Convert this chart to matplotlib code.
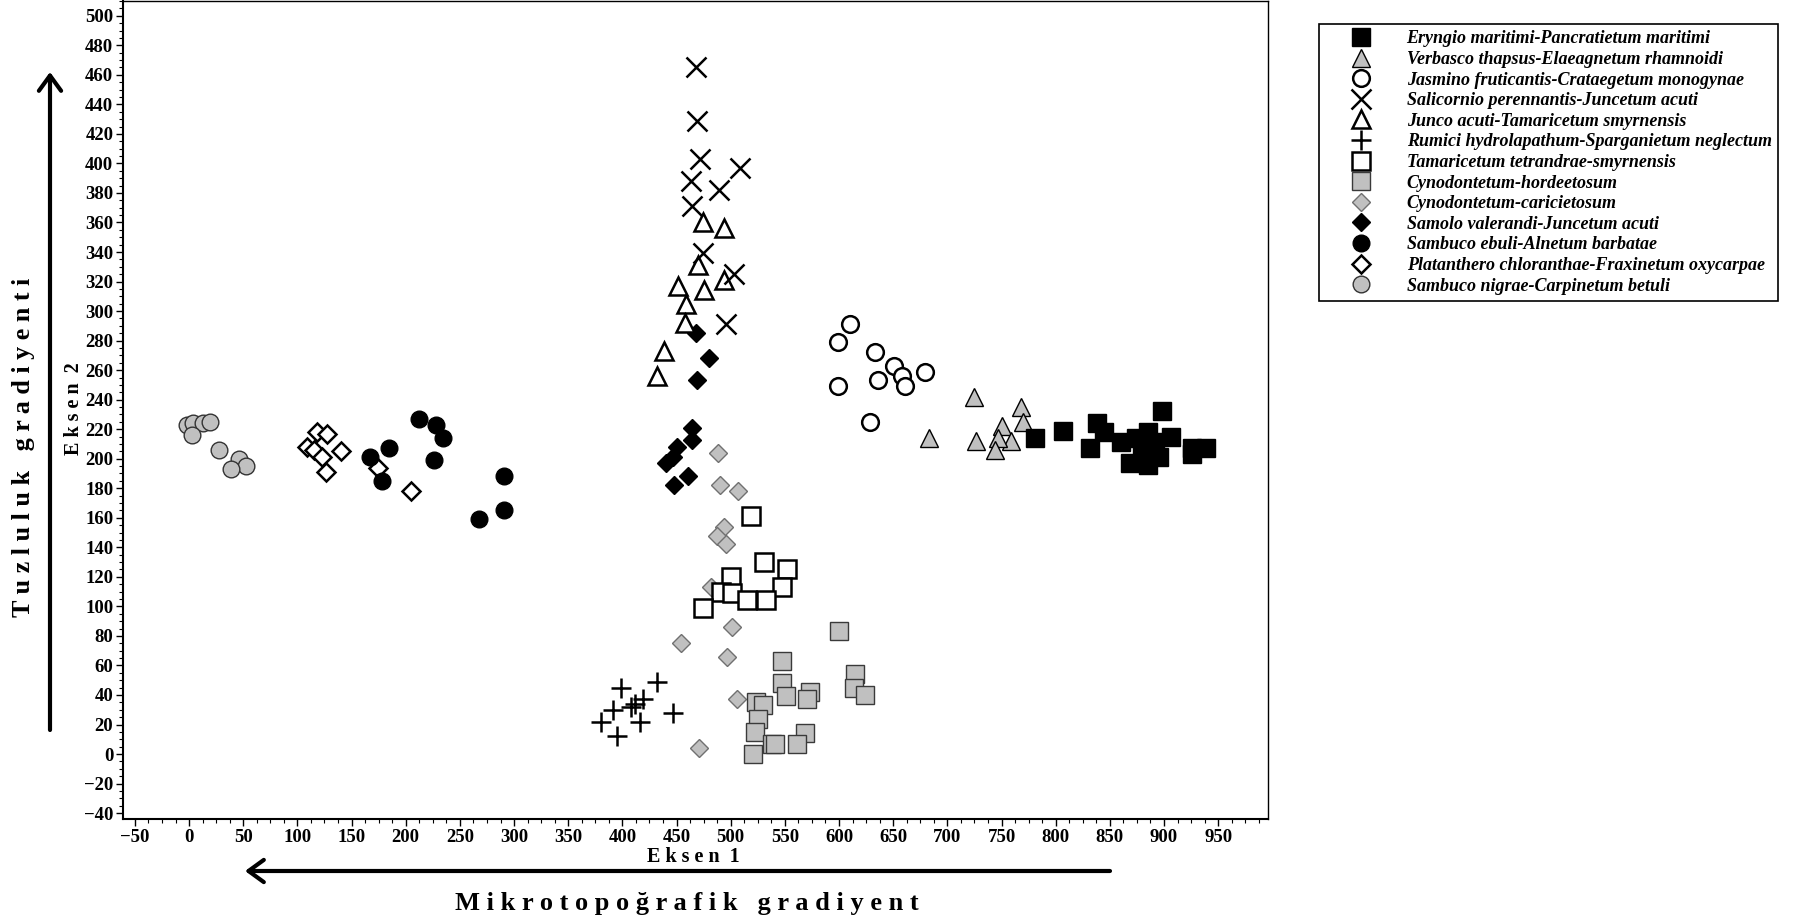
import matplotlib
matplotlib.use("Agg")
import matplotlib.pyplot as plt
from matplotlib.ticker import MultipleLocator

plt.rcParams["font.family"] = ["Liberation Serif", "DejaVu Serif"]

# === Data (Eksen 1 / Eksen 2 scores) ===
labels = [
    "Eryngio maritimi-Pancratietum maritimi",
    "Verbasco thapsus-Elaeagnetum rhamnoidi",
    "Jasmino fruticantis-Crataegetum monogynae",
    "Salicornio perennantis-Juncetum acuti",
    "Junco acuti-Tamaricetum smyrnensis",
    "Rumici hydrolapathum-Sparganietum neglectum",
    "Tamaricetum tetrandrae-smyrnensis",
    "Cynodontetum-hordeetosum",
    "Cynodontetum-caricietosum",
    "Samolo valerandi-Juncetum acuti",
    "Sambuco ebuli-Alnetum barbatae",
    "Platanthero chloranthae-Fraxinetum oxycarpae",
    "Sambuco nigrae-Carpinetum betuli",
]

eryngio_x = [781, 807, 898, 838, 845, 832, 860, 874, 885, 906, 869, 885, 880, 895, 926, 939, 926, 892]
eryngio_y = [214, 219, 232, 224, 218, 207, 211, 214, 218, 215, 197, 196, 205, 201, 203, 207, 207, 211]

verbasco_x = [725, 683, 768, 770, 750, 726, 759, 747, 744]
verbasco_y = [242, 214, 235, 225, 222, 212, 212, 214, 206]

jasmino_x = [610, 599, 633, 651, 658, 679, 636, 661, 599, 629]
jasmino_y = [291, 279, 272, 263, 256, 259, 253, 249, 249, 225]

salicornio_x = [468, 469, 472, 509, 463, 489, 464, 474, 503, 496]
salicornio_y = [465, 429, 403, 397, 388, 382, 371, 339, 325, 291]

junco_x = [474, 494, 470, 494, 451, 475, 459, 458, 438, 432]
junco_y = [360, 356, 331, 321, 317, 314, 305, 292, 273, 256]

rumici_x = [432, 399, 419, 408, 391, 447, 380, 416, 395, 412]
rumici_y = [49, 45, 37, 32, 30, 28, 22, 22, 12, 34]

tamaricetum_x = [519, 531, 552, 500, 547, 491, 501, 515, 533, 474]
tamaricetum_y = [161, 130, 125, 120, 113, 110, 109, 104, 104, 99]

hordeetosum_x = [600, 615, 614, 624, 547, 547, 551, 573, 570, 523, 530, 525, 522, 569, 538, 541, 561, 521]
hordeetosum_y = [83, 54, 45, 40, 63, 48, 39, 42, 37, 35, 33, 24, 15, 14, 7, 7, 7, 0]

caricietosum_x = [488, 490, 507, 494, 487, 496, 482, 501, 454, 497, 506, 471]
caricietosum_y = [204, 182, 178, 154, 148, 142, 113, 86, 75, 66, 37, 4]

samolo_x = [468, 480, 469, 464, 464, 450, 447, 440, 461, 448]
samolo_y = [285, 268, 253, 221, 213, 208, 201, 197, 188, 182]

ebuli_x = [212, 228, 234, 226, 185, 167, 178, 291, 291, 268]
ebuli_y = [227, 223, 214, 199, 207, 201, 185, 188, 165, 159]

platanthero_x = [118, 127, 109, 115, 123, 140, 126, 174, 205]
platanthero_y = [218, 217, 208, 206, 201, 205, 191, 194, 178]

nigrae_x = [-2, 4, 13, 19, 3, 28, 46, 53, 39]
nigrae_y = [223, 224, 224, 225, 216, 206, 200, 195, 193]

groups_x = [eryngio_x, verbasco_x, jasmino_x, salicornio_x, junco_x, rumici_x, tamaricetum_x,
            hordeetosum_x, caricietosum_x, samolo_x, ebuli_x, platanthero_x, nigrae_x]
groups_y = [eryngio_y, verbasco_y, jasmino_y, salicornio_y, junco_y, rumici_y, tamaricetum_y,
            hordeetosum_y, caricietosum_y, samolo_y, ebuli_y, platanthero_y, nigrae_y]

# marker, size, face, edge, edge width
GRAY = "#c0c0c0"
styles = [
    ("s", 13, "black", "black", 1.0),
    ("^", 13, GRAY, "black", 1.0),
    ("o", 12, "white", "black", 1.8),
    ("x", 14, "black", "black", 1.8),
    ("^", 13, "white", "black", 1.8),
    ("+", 15, "black", "black", 1.8),
    ("s", 13, "white", "black", 1.8),
    ("s", 13, GRAY, "#3a3a3a", 1.0),
    ("D", 9.5, GRAY, "#707070", 1.0),
    ("D", 9.5, "black", "black", 1.0),
    ("o", 12, "black", "black", 1.0),
    ("D", 9.5, "white", "black", 1.8),
    ("o", 12, GRAY, "#333333", 1.0),
]

# === Figure ===
W, H = 1793, 922
fig = plt.figure(figsize=(W / 100, H / 100), dpi=100)
ax = fig.add_axes([123 / W, 1 - 819 / H, (1268 - 123) / W, 818 / H])

handles = []
n = len(labels)
for i in range(n):
    m, ms, fc, ec, mew = styles[i]
    (h,) = ax.plot(groups_x[i], groups_y[i], linestyle="none", marker=m, markersize=ms,
                   markerfacecolor=fc, markeredgecolor=ec, markeredgewidth=mew,
                   zorder=3 + (n - i) * 0.01, label=labels[i])
    handles.append(h)

ax.set_xlim(-61, 996)
ax.set_ylim(-44, 510)
ax.xaxis.set_major_locator(MultipleLocator(50))
ax.xaxis.set_minor_locator(MultipleLocator(12.5))
ax.yaxis.set_major_locator(MultipleLocator(20))
ax.yaxis.set_minor_locator(MultipleLocator(5))
ax.tick_params(which="major", direction="out", length=5, width=1, pad=2,
               labelsize=13.5)
ax.tick_params(which="minor", direction="out", length=3, width=0.8)
for lab in ax.get_xticklabels() + ax.get_yticklabels():
    lab.set_fontweight("bold")
for side in ["top", "right"]:
    ax.spines[side].set_linewidth(1.0)
for side in ["left", "bottom"]:
    ax.spines[side].set_linewidth(1.5)

# axis names
fig.text(693 / W, 1 - 857 / H, "E k s e n  1", ha="center", va="center",
         fontsize=14.5, fontweight="bold")
fig.text(74 / W, 1 - 409 / H, "E k s e n  2", ha="center", va="center",
         rotation=90, fontsize=14.5, fontweight="bold")

# gradient labels and arrows
fig.text(24 / W, 1 - 447 / H, "T u z l u l u k   g r a d i y e n t i", ha="center",
         va="center", rotation=90, fontsize=18.8, fontweight="bold")
fig.text(687 / W, 1 - 903 / H, "M i k r o t o p o ğ r a f i k   g r a d i y e n t",
         ha="center", va="center", fontsize=19, fontweight="bold")

arrow = dict(arrowstyle="->,head_length=0.55,head_width=0.4", lw=3, color="black",
             mutation_scale=20, shrinkA=0, shrinkB=0)
ax.annotate("", xy=(50, H - 72), xytext=(50, H - 730), xycoords="figure pixels",
            textcoords="figure pixels", arrowprops=arrow, annotation_clip=False)
ax.annotate("", xy=(245, H - 871), xytext=(1110, H - 871), xycoords="figure pixels",
            textcoords="figure pixels", arrowprops=arrow, annotation_clip=False)

# legend
leg = fig.legend(handles=handles, loc="upper left", bbox_to_anchor=(1319 / W, 1 - 24 / H),
                 bbox_transform=fig.transFigure, borderaxespad=0, numpoints=1,
                 handlelength=4.0, handletextpad=0.5, borderpad=0.35, labelspacing=0.2,
                 fancybox=False, edgecolor="black", framealpha=1,
                 prop={"family": "Liberation Serif", "weight": "bold", "style": "italic",
                       "size": 13})
leg.get_frame().set_linewidth(1.2)

fig.savefig("out.png", dpi=100)
